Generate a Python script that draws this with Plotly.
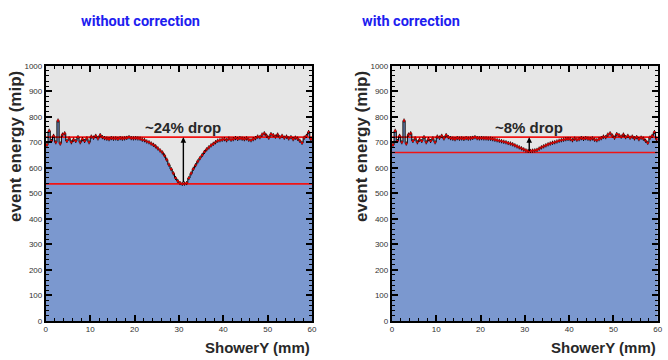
import plotly.graph_objects as go

# ---------------- data ----------------
bin_centers = [0.25 + 0.5 * i for i in range(120)]

outer_left_part = [690, 745, 705, 725, 700, 785, 695, 730, 735, 705,
                   715, 700, 710, 705, 720, 700, 712, 705, 715, 700,
                   722, 718, 725, 715, 728, 720, 716, 714, 712, 716,
                   714, 715, 713, 716, 714, 715, 717, 720, 716, 715]
outer_right_part = [712, 708, 714, 710, 712, 716, 713, 716, 714, 712,
                    715, 710, 708, 712, 716, 722, 720, 730, 735, 726,
                    718, 732, 728, 722, 730, 720, 725, 718, 722, 715,
                    720, 712, 718, 714, 706, 698, 718, 725, 740, 712]

dip_without = [716, 715, 714, 710, 708, 703, 700, 695, 690, 684,
               676, 668, 660, 648, 632, 612, 595, 578, 560, 548,
               540, 537, 538, 540, 560, 578, 596, 610, 625, 638,
               650, 662, 672, 680, 688, 694, 700, 706, 708, 710]
dip_with = [716, 715, 715, 714, 714, 712, 710, 708, 706, 704,
            702, 700, 697, 695, 692, 688, 684, 680, 676, 672,
            668, 666, 666, 667, 668, 670, 675, 680, 684, 688,
            692, 695, 698, 700, 703, 706, 708, 710, 712, 713]

energy_without = outer_left_part + dip_without + outer_right_part
energy_with = outer_left_part + dip_with + outer_right_part

plateau_level = [720, 720]
dip_level_without = [537, 537]
dip_level_with = [660, 660]
line_x = [0, 60]
arrow_x = 31
label_without = "~24% drop"
label_with = "~8% drop"
label_y = 757

panel_titles = ["without correction", "with correction"]
x_title = "ShowerY (mm)"
y_title = "event energy (mip)"

# ---------------- figure ----------------
W, H = 668, 360
fig = go.Figure()

FILL = "rgb(123,152,207)"
BG = "rgb(230,230,230)"

panels = [
    dict(xa="x", ya="y", data=energy_without, low=dip_level_without, dom=[44.3, 313.3], label=label_without),
    dict(xa="x2", ya="y2", data=energy_with, low=dip_level_with, dom=[394.0, 662.7], label=label_with),
]

for p in panels:
    fig.add_trace(go.Bar(x=bin_centers, y=p["data"], width=0.5, marker=dict(color=FILL, line=dict(width=0)),
                         xaxis=p["xa"], yaxis=p["ya"], showlegend=False, hoverinfo="skip"))
    for lvl in (plateau_level, p["low"]):
        fig.add_trace(go.Scatter(x=line_x, y=lvl, mode="lines", line=dict(color="rgb(240,20,20)", width=1.6),
                                 xaxis=p["xa"], yaxis=p["ya"], showlegend=False, hoverinfo="skip"))
    fig.add_trace(go.Scatter(x=bin_centers, y=p["data"], mode="lines", line=dict(color="black", width=1, shape="hvh"),
                             xaxis=p["xa"], yaxis=p["ya"], showlegend=False, hoverinfo="skip"))
    fig.add_trace(go.Scatter(x=bin_centers, y=p["data"], mode="markers",
                             marker=dict(color="rgb(210,0,0)", size=2.2, symbol="square"),
                             error_y=dict(type="constant", value=8, color="black", thickness=1, width=0),
                             xaxis=p["xa"], yaxis=p["ya"], showlegend=False))
    fig.add_annotation(x=arrow_x, y=plateau_level[0], ax=arrow_x, ay=p["low"][0], xref=p["xa"], yref=p["ya"],
                       axref=p["xa"], ayref=p["ya"], showarrow=True, arrowhead=2, arrowsize=0.8,
                       arrowwidth=1.4, arrowcolor="black", text="")
    fig.add_annotation(x=arrow_x, y=label_y, xref=p["xa"], yref=p["ya"], text="<b>%s</b>" % p["label"],
                       showarrow=False, font=dict(family="Liberation Sans, Arial", size=15, color="rgb(40,40,40)"))

axis_common = dict(showgrid=False, zeroline=False, showline=True, linecolor="black", linewidth=2,
                   mirror="allticks", ticks="inside", ticklen=6, tickwidth=1.5, tickcolor="black",
                   tickfont=dict(family="Liberation Sans, Arial", size=8, color="rgb(50,50,50)"))

def dom(px0, px1):
    return [px0 / W, px1 / W]

ydom = [1 - 325.0 / H, 1 - 63.3 / H]

fig.update_layout(
    width=W, height=H, margin=dict(l=0, r=0, t=0, b=0),
    paper_bgcolor="white", plot_bgcolor=BG, bargap=0, showlegend=False,
)

for i, p in enumerate(panels):
    sfx = "" if i == 0 else "2"
    fig.layout["xaxis" + sfx] = dict(axis_common, domain=dom(*p["dom"]), range=[0, 60], dtick=10,
                                     anchor="y" + sfx,
                                     minor=dict(ticks="inside", ticklen=3, dtick=2, tickcolor="black", tickwidth=1.2))
    fig.layout["yaxis" + sfx] = dict(axis_common, domain=ydom, range=[0, 1000], dtick=100,
                                     anchor="x" + sfx,
                                     minor=dict(ticks="inside", ticklen=3, dtick=20, tickcolor="black", tickwidth=1.2))

# titles
title_font = dict(family="Roboto, sans-serif", size=14.5, color="rgb(30,30,240)")
for cx, t in zip([140, 413], panel_titles):
    fig.add_annotation(x=cx / W, y=1 - 18 / H, xref="paper", yref="paper", text="<b>%s</b>" % t, showarrow=False,
                       font=title_font, xanchor="center", yanchor="middle")

for p in panels:
    fig.add_annotation(x=p["dom"][1] / W, y=1 - 352 / H, xref="paper", yref="paper", text="<b>%s</b>" % x_title,
                       showarrow=False, font=dict(family="Liberation Sans, Arial", size=15, color="rgb(40,40,40)"),
                       xanchor="right", yanchor="middle")
    fig.add_annotation(x=(p["dom"][0] - 30) / W, y=1 - 67 / H, xref="paper", yref="paper",
                       text="<b>%s</b>" % y_title, textangle=-90,
                       showarrow=False, font=dict(family="Liberation Sans, Arial", size=17, color="rgb(40,40,40)"),
                       xanchor="center", yanchor="top")

fig.write_html("out.html")
